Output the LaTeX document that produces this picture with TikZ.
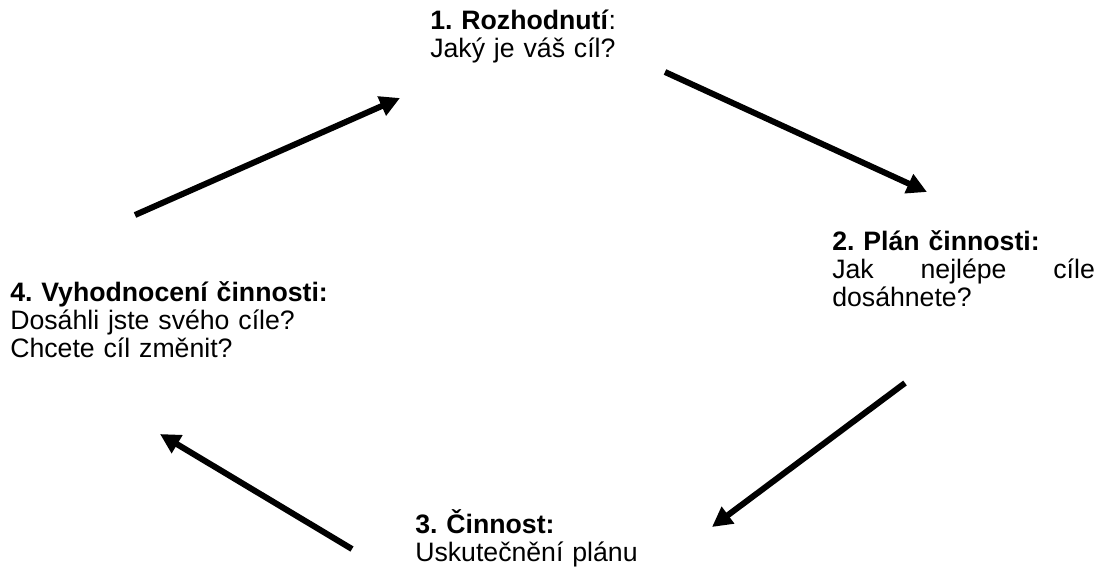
\documentclass[tikz,border=0pt]{standalone}
\usepackage{fontspec}
\setmainfont{Liberation Sans}
\usetikzlibrary{arrows.meta}
\frenchspacing

\tikzset{
	stage/.style={anchor=base west, inner sep=0pt, align=left, font=\fontsize{20}{21}\selectfont},
	cyclearrow/.style={line width=4.5pt, -{Triangle[length=15pt,width=15pt]}}
}

\begin{document}
\begin{tikzpicture}[x=0.75pt, y=-0.75pt]
	\useasboundingbox (0,0) rectangle (1103,571);
	\node[stage, text width=200pt] (rozhodnuti) at (430,29) {\textbf{1. Rozhodnutí}:\\Jaký je váš cíl?};
	\node[stage, text width=197pt] (plan) at (832,250) {\textbf{2. Plán činnosti:}\\Jak\hfill nejlépe\hfill cíle\\dosáhnete?};
	\node[stage, text width=190pt] (cinnost) at (415,533) {\textbf{3. Činnost:}\\Uskutečnění plánu};
	\node[stage, text width=250pt] (vyhodnoceni) at (10,301) {\textbf{4. Vyhodnocení činnosti:}\\Dosáhli jste svého cíle?\\Chcete cíl změnit?};
	\coordinate (from4) at (135,215);
	\coordinate (to1) at (400,98);
	\coordinate (from1) at (665,72);
	\coordinate (to2) at (927,192);
	\coordinate (from2) at (905,383);
	\coordinate (to3) at (712,527);
	\coordinate (from3) at (352,549);
	\coordinate (to4) at (160,434);
	\draw[cyclearrow] (from4) -- (to1);
	\draw[cyclearrow] (from1) -- (to2);
	\draw[cyclearrow] (from2) -- (to3);
	\draw[cyclearrow] (from3) -- (to4);
\end{tikzpicture}
\end{document}
